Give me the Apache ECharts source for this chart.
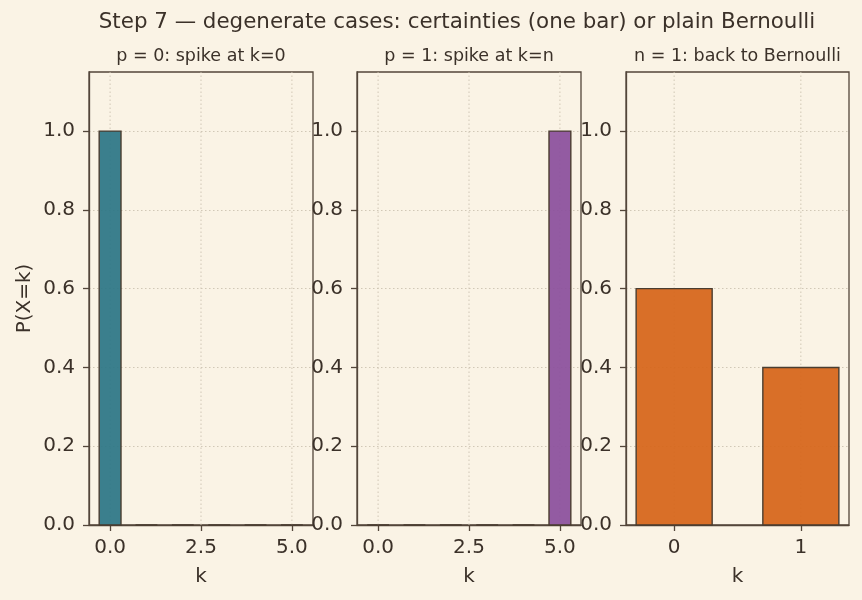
<!DOCTYPE html>
<html>
<head>
    <meta charset="utf-8">
    <title>Step 7 — degenerate cases</title>
    <script src="https://cdn.jsdelivr.net/npm/echarts@6/dist/echarts.min.js"></script>
    <style>
        body { margin: 0; background: #faf3e5; }
    </style>
</head>
<body>
    <div id="main" style="width: 862px;height:600px;"></div>
    <script type="text/javascript">
        var myChart = echarts.init(document.getElementById('main'));

        // data
        var kA = [0, 1, 2, 3, 4, 5];
        var probA = [1, 0, 0, 0, 0, 0];     // p = 0
        var kB = [0, 1, 2, 3, 4, 5];
        var probB = [0, 0, 0, 0, 0, 1];     // p = 1
        var kC = [0, 1];
        var probC = [0.6, 0.4];             // n = 1
        var xTicksAB = [0, 2.5, 5];
        var xTicksC = [0, 1];
        var yTicks = [0, 0.2, 0.4, 0.6, 0.8, 1.0];

        var titles = ['p = 0: spike at k=0', 'p = 1: spike at k=n', 'n = 1: back to Bernoulli'];

        // styles
        var ink = '#3b3129';
        var spine = '#53463a';
        var gridCol = '#ccc3b0';
        var font = 'DejaVu Sans';
        var colors = ['rgba(42,117,133,0.92)', 'rgba(138,78,156,0.92)', 'rgba(214,100,24,0.92)'];
        var grids = [
            { left: 89, top: 72, width: 224, height: 453 },
            { left: 357, top: 72, width: 224, height: 453 },
            { left: 626, top: 72, width: 223, height: 453 }
        ];
        var xRanges = [[-0.58, 5.58], [-0.58, 5.58], [-0.38, 1.38]];
        var yMax = 1.15;

        function makeBars(color) {
            return function (params, api) {
                var k = api.value(0), p = api.value(1);
                var a = api.coord([k - 0.3, p]);
                var b = api.coord([k + 0.3, 0]);
                return {
                    type: 'rect',
                    shape: { x: a[0], y: a[1], width: b[0] - a[0], height: b[1] - a[1] },
                    style: { fill: color, stroke: '#4a3d30', lineWidth: 1.4 }
                };
            };
        }

        // vertical dotted grid lines at the x ticks
        function vGrid(params, api) {
            var v = api.value(0);
            var a = api.coord([v, 0]);
            var b = api.coord([v, yMax]);
            return {
                type: 'line',
                shape: { x1: a[0], y1: a[1], x2: b[0], y2: b[1] },
                style: { stroke: gridCol, lineWidth: 0.9, lineDash: [1.5, 2.5] }
            };
        }

        var xAxes = [], yAxes = [], series = [], graphics = [];
        var ks = [kA, kB, kC], probs = [probA, probB, probC], xTicks = [xTicksAB, xTicksAB, xTicksC];

        for (var i = 0; i < 3; i++) {
            xAxes.push({
                type: 'value', gridIndex: i,
                min: xRanges[i][0], max: xRanges[i][1],
                name: 'k', nameLocation: 'middle', nameGap: 42,
                nameTextStyle: { color: ink, fontSize: 20, fontFamily: font },
                axisLine: { show: true, onZero: false, lineStyle: { color: spine, width: 1.3 } },
                axisTick: { show: true, length: 6, customValues: xTicks[i], lineStyle: { color: spine, width: 1.3 } },
                axisLabel: {
                    customValues: xTicks[i], margin: 13, color: ink, fontSize: 20, fontFamily: font,
                    formatter: (i < 2) ? function (v) { return v.toFixed(1); } : function (v) { return String(v); }
                },
                splitLine: { show: false }
            });
            yAxes.push({
                type: 'value', gridIndex: i,
                min: 0, max: yMax, interval: 0.2,
                name: i === 0 ? 'P(X=k)' : '', nameLocation: 'middle', nameGap: 54,
                nameTextStyle: { color: ink, fontSize: 20, fontFamily: font },
                axisLine: { show: true, onZero: false, lineStyle: { color: spine, width: 1.3 } },
                axisTick: { show: true, length: 6, customValues: yTicks, lineStyle: { color: spine, width: 1.3 } },
                axisLabel: {
                    customValues: yTicks, margin: 14, color: ink, fontSize: 20, fontFamily: font,
                    formatter: function (v) { return v.toFixed(1); }
                },
                splitLine: { show: true, lineStyle: { color: gridCol, width: 0.9, type: [1.5, 2.5] } }
            });
            series.push({
                type: 'custom', xAxisIndex: i, yAxisIndex: i, silent: true, z: 1,
                renderItem: vGrid,
                data: xTicks[i].map(function (v) { return [v, 0]; })
            });
            series.push({
                type: 'custom', xAxisIndex: i, yAxisIndex: i, z: 2,
                renderItem: makeBars(colors[i]),
                data: ks[i].map(function (k, j) { return [k, probs[i][j]]; })
            });
            graphics.push({
                type: 'text', x: grids[i].left + grids[i].width / 2, y: 56,
                style: { text: titles[i], textAlign: 'center', textVerticalAlign: 'middle',
                         fill: ink, fontSize: 17.5, fontFamily: font }
            });
        }

        graphics.push({
            type: 'text', x: 457, y: 22,
            style: { text: 'Step 7 — degenerate cases: certainties (one bar) or plain Bernoulli',
                     textAlign: 'center', textVerticalAlign: 'middle',
                     fill: ink, fontSize: 21.4, fontFamily: font }
        });

        var option = {
            backgroundColor: '#faf3e5',
            animation: false,
            grid: grids.map(function (g) {
                return { left: g.left, top: g.top, width: g.width, height: g.height,
                         show: true, borderColor: spine, borderWidth: 1.3, backgroundColor: 'transparent' };
            }),
            xAxis: xAxes,
            yAxis: yAxes,
            series: series,
            graphic: graphics
        };

        myChart.setOption(option);
    </script>
</body>
</html>
